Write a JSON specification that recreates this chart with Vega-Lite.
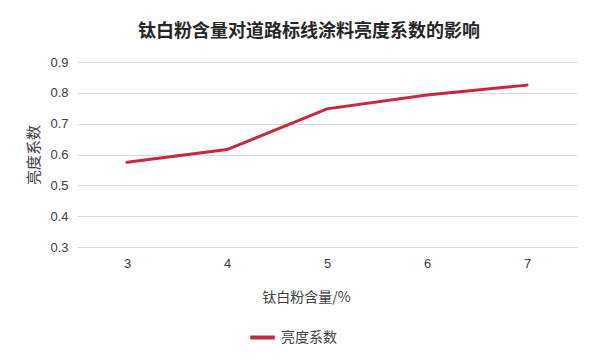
{
  "$schema": "https://vega.github.io/schema/vega-lite/v6.json",
  "width": 500,
  "height": 185,
  "autosize": {"type": "none"},
  "padding": {"left": 77, "top": 62, "right": 23, "bottom": 117},
  "background": "white",
  "title": {
    "text": "钛白粉含量对道路标线涂料亮度系数的影响",
    "font": "Noto Sans CJK SC",
    "fontSize": 18,
    "fontWeight": "bold",
    "color": "#262626",
    "anchor": "middle",
    "dx": -18,
    "offset": 15
  },
  "data": {
    "values": [
      {"content": "3", "value": 0.575, "series": "亮度系数"},
      {"content": "4", "value": 0.616, "series": "亮度系数"},
      {"content": "5", "value": 0.748, "series": "亮度系数"},
      {"content": "6", "value": 0.793, "series": "亮度系数"},
      {"content": "7", "value": 0.825, "series": "亮度系数"}
    ]
  },
  "mark": {"type": "line", "strokeWidth": 3, "strokeCap": "round"},
  "encoding": {
    "x": {
      "field": "content",
      "type": "ordinal",
      "sort": null,
      "scale": {"type": "point", "padding": 0.5},
      "axis": {
        "title": "钛白粉含量/%",
        "titleFont": "Noto Sans CJK SC",
        "titleFontSize": 14,
        "titleFontWeight": "normal",
        "titleColor": "#404040",
        "titlePadding": 20,
        "titleX": 229,
        "labelAngle": 0,
        "labelFont": "Liberation Sans",
        "labelFontSize": 13,
        "labelColor": "#404040",
        "labelPadding": 10,
        "ticks": false,
        "domain": false,
        "grid": false
      }
    },
    "y": {
      "field": "value",
      "type": "quantitative",
      "scale": {"domain": [0.3, 0.9], "nice": false, "zero": false},
      "axis": {
        "title": "亮度系数",
        "titleFont": "Noto Sans CJK SC",
        "titleFontSize": 15,
        "titleFontWeight": "normal",
        "titleColor": "#404040",
        "titlePadding": 8,
        "values": [0.3, 0.4, 0.5, 0.6, 0.7, 0.8, 0.9],
        "format": ".1f",
        "labelFont": "Liberation Sans",
        "labelFontSize": 13,
        "labelColor": "#404040",
        "labelPadding": 9,
        "ticks": false,
        "domain": false,
        "grid": true,
        "gridColor": "#D9D9D9",
        "gridWidth": 1
      }
    },
    "color": {
      "field": "series",
      "type": "nominal",
      "scale": {"range": ["#C8283C"]},
      "legend": {
        "title": null,
        "orient": "none",
        "legendX": 171,
        "legendY": 261,
        "symbolType": "stroke",
        "symbolSize": 600,
        "symbolStrokeWidth": 4,
        "labelFont": "Noto Sans CJK SC",
        "labelFontSize": 14,
        "labelColor": "#404040",
        "labelOffset": 4
      }
    }
  },
  "config": {
    "view": {"stroke": null}
  }
}
